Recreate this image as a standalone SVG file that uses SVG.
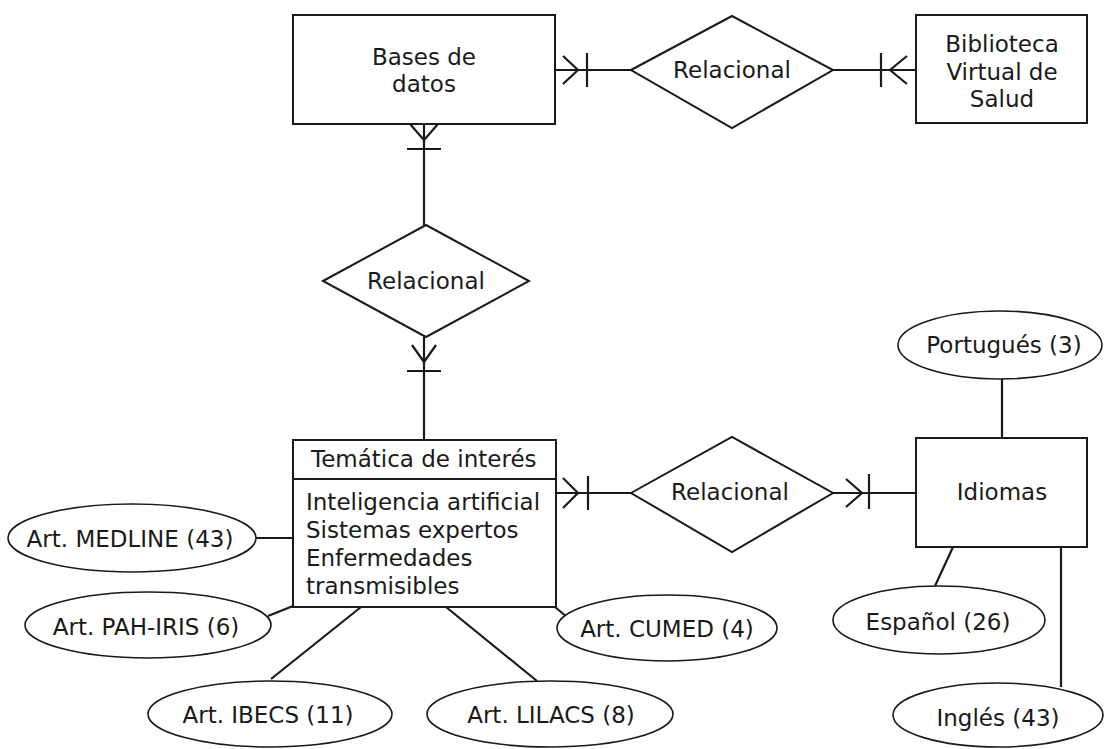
<svg xmlns="http://www.w3.org/2000/svg" width="1105" height="749" viewBox="0 0 1105 749">
<style>
  .shape { fill: #ffffff; stroke: #1a1a1a; stroke-width: 2; }
  .ell { fill: #ffffff; stroke: #1a1a1a; stroke-width: 1.6; }
  .conn { fill: none; stroke: #1a1a1a; stroke-width: 2.2; }
  text { font-family: "DejaVu Sans", Verdana, sans-serif; font-size: 23px; fill: #1a1a1a; }
  .c { text-anchor: middle; }
</style>
<rect width="1105" height="749" fill="#ffffff"/>

<g id="connectors">
  <!-- Bases de datos - Relacional (top) -->
  <line class="conn" x1="555" y1="70" x2="631" y2="70"/>
  <polyline class="conn" points="563,56 578,70 563,84"/>
  <line class="conn" x1="587" y1="53" x2="587" y2="87"/>
  <!-- Relacional (top) - Biblioteca -->
  <line class="conn" x1="833" y1="70" x2="916" y2="70"/>
  <line class="conn" x1="881" y1="53" x2="881" y2="87"/>
  <polyline class="conn" points="907,56 890,70 907,84"/>
  <!-- Bases de datos - Relacional (middle) -->
  <line class="conn" x1="424" y1="124" x2="424" y2="225"/>
  <polyline class="conn" points="410,124 424,140 438,124"/>
  <line class="conn" x1="407" y1="149" x2="441" y2="149"/>
  <!-- Relacional (middle) - Temática -->
  <line class="conn" x1="424" y1="337" x2="424" y2="440"/>
  <polyline class="conn" points="412,345 424,362 436,345"/>
  <line class="conn" x1="407" y1="371" x2="441" y2="371"/>
  <!-- Temática - Relacional (right) -->
  <line class="conn" x1="556" y1="493" x2="631" y2="493"/>
  <polyline class="conn" points="563,478 578,493 563,508"/>
  <line class="conn" x1="588" y1="476" x2="588" y2="510"/>
  <!-- Relacional (right) - Idiomas -->
  <line class="conn" x1="833" y1="493" x2="916" y2="493"/>
  <polyline class="conn" points="846,479 862,493 846,507"/>
  <line class="conn" x1="869" y1="474" x2="869" y2="509"/>
  <!-- attributes of Temática -->
  <line class="conn" x1="256" y1="538" x2="293" y2="538"/>
  <line class="conn" x1="268" y1="616" x2="293" y2="606"/>
  <line class="conn" x1="361" y1="607" x2="271" y2="679"/>
  <line class="conn" x1="446" y1="607" x2="537" y2="681"/>
  <line class="conn" x1="555" y1="607" x2="567" y2="617"/>
  <!-- attributes of Idiomas -->
  <line class="conn" x1="1002" y1="379" x2="1002" y2="438"/>
  <line class="conn" x1="953" y1="547" x2="935" y2="586"/>
  <line class="conn" x1="1061" y1="547" x2="1061" y2="687"/>
</g>

<g id="bases-de-datos">
  <rect class="shape" x="293" y="15" width="262" height="109"/>
  <text class="c" x="424" y="65">Bases de</text>
  <text class="c" x="424" y="92">datos</text>
</g>

<g id="relacional-top">
  <polygon class="shape" points="631,70 732,16 833,70 732,128"/>
  <text class="c" x="732" y="78">Relacional</text>
</g>

<g id="biblioteca">
  <rect class="shape" x="916" y="15" width="171" height="108"/>
  <text class="c" x="1002" y="52">Biblioteca</text>
  <text class="c" x="1002" y="80">Virtual de</text>
  <text class="c" x="1002" y="107">Salud</text>
</g>

<g id="relacional-middle">
  <polygon class="shape" points="323,281 426,225 529,281 426,337"/>
  <text class="c" x="426" y="289">Relacional</text>
</g>

<g id="tematica">
  <rect class="shape" x="293" y="440" width="263" height="167"/>
  <line class="shape" x1="293" y1="479" x2="556" y2="479"/>
  <text x="311" y="467">Temática de interés</text>
  <text x="306" y="510">Inteligencia artificial</text>
  <text x="306" y="538">Sistemas expertos</text>
  <text x="306" y="566">Enfermedades</text>
  <text x="306" y="594">transmisibles</text>
</g>

<g id="relacional-right">
  <polygon class="shape" points="631,493 732,437 833,493 732,552"/>
  <text class="c" x="730" y="500">Relacional</text>
</g>

<g id="idiomas">
  <rect class="shape" x="916" y="438" width="171" height="109"/>
  <text class="c" x="1002" y="500">Idiomas</text>
</g>

<g id="portugues">
  <ellipse class="ell" cx="1000" cy="345" rx="102" ry="34"/>
  <text class="c" x="1004" y="353">Portugués (3)</text>
</g>

<g id="espanol">
  <ellipse class="ell" cx="939" cy="620" rx="106" ry="34"/>
  <text class="c" x="938" y="630">Español (26)</text>
</g>

<g id="ingles">
  <ellipse class="ell" cx="998" cy="715" rx="105" ry="32"/>
  <text class="c" x="998" y="726">Inglés (43)</text>
</g>

<g id="medline">
  <ellipse class="ell" cx="132" cy="538" rx="124" ry="34"/>
  <text class="c" x="130" y="547">Art. MEDLINE (43)</text>
</g>

<g id="pah-iris">
  <ellipse class="ell" cx="148" cy="625" rx="123" ry="33"/>
  <text class="c" x="146" y="635">Art. PAH-IRIS (6)</text>
</g>

<g id="ibecs">
  <ellipse class="ell" cx="270" cy="714" rx="122" ry="33"/>
  <text class="c" x="268" y="723">Art. IBECS (11)</text>
</g>

<g id="lilacs">
  <ellipse class="ell" cx="550" cy="714" rx="123" ry="33"/>
  <text class="c" x="551" y="723">Art. LILACS (8)</text>
</g>

<g id="cumed">
  <ellipse class="ell" cx="667" cy="628" rx="110" ry="33"/>
  <text class="c" x="667" y="637">Art. CUMED (4)</text>
</g>
</svg>
